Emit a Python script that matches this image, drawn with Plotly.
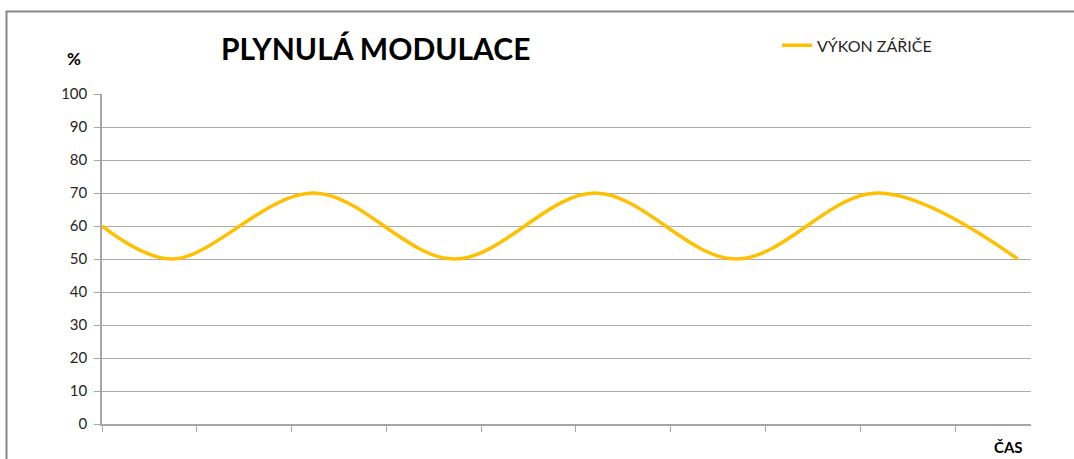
import plotly.graph_objects as go

# ---- data ----
TIME = [0, 0.74, 2.23, 3.72, 5.20, 6.69, 8.18, 9.66]
POWER = [60, 50, 70, 50, 70, 50, 70, 50]
SERIES_NAME = "VÝKON ZÁŘIČE"
TITLE = "PLYNULÁ MODULACE"
Y_LABEL = "%"
X_LABEL = "ČAS"
Y_TICKS = list(range(0, 101, 10))

# ---- layout geometry (pixels) ----
W, H = 1074, 459
L, R = 102, 1031
T, B = 93.7, 424.3
X_MAX = 9.80
FONT = "Lato"


def px_x(p):
    return (p - L) / (R - L)


def px_y(p):
    return (B - p) / (B - T)


fig = go.Figure()
fig.add_trace(go.Scatter(
    x=TIME, y=POWER, name=SERIES_NAME, mode="lines",
    line=dict(color="#FFC000", width=3.5, shape="spline", smoothing=1.0),
    showlegend=True,
))

fig.update_layout(
    width=W, height=H,
    margin=dict(l=L, r=W - R, t=T, b=H - B, pad=0),
    paper_bgcolor="white", plot_bgcolor="white",
    font=dict(family=FONT, color="#262626"),
    showlegend=True,
    legend=dict(
        x=px_x(777), y=px_y(45), xanchor="left", yanchor="middle",
        font=dict(family=FONT, size=16, color="#262626"),
        bgcolor="rgba(0,0,0,0)", borderwidth=0,
    ),
    xaxis=dict(
        range=[0, X_MAX], showgrid=False, zeroline=False,
        showline=True, linecolor="#A6A6A6", linewidth=1.5,
        ticks="outside", ticklen=6, tickcolor="#A6A6A6", tickwidth=1,
        tick0=0, dtick=1, showticklabels=False,
    ),
    yaxis=dict(
        range=[0, 100], tickvals=Y_TICKS,
        showgrid=True, gridcolor="#ABABAB", gridwidth=1,
        zeroline=False, showline=True, linecolor="#A6A6A6", linewidth=1.5,
        ticks="outside", ticklen=6, tickcolor="#A6A6A6",
        ticklabelstandoff=4,
        tickfont=dict(family=FONT, size=15, color="#262626"),
    ),
    annotations=[
        dict(text=f"<b>{TITLE}</b>", xref="paper", yref="paper",
             x=px_x(375), y=px_y(48), xanchor="center", yanchor="middle",
             showarrow=False, font=dict(family=FONT, size=30, color="black")),
        dict(text=f"<b>{Y_LABEL}</b>", xref="paper", yref="paper",
             x=px_x(74), y=px_y(58), xanchor="center", yanchor="middle",
             showarrow=False, font=dict(family=FONT, size=17, color="black")),
        dict(text=f"<b>{X_LABEL}</b>", xref="paper", yref="paper",
             x=px_x(1025), y=px_y(447), xanchor="right", yanchor="middle",
             showarrow=False, font=dict(family=FONT, size=15, color="black")),
    ],
    shapes=[
        dict(type="rect", xref="paper", yref="paper",
             x0=px_x(6.5), x1=px_x(1100), y0=px_y(490), y1=px_y(11),
             line=dict(color="#868686", width=2), fillcolor="rgba(0,0,0,0)",
             layer="below"),
    ],
)

fig.write_html("out.html",
               config={"displayModeBar": False},
               post_script="document.body.style.margin='0';"
                           "document.body.style.overflow='hidden';")
